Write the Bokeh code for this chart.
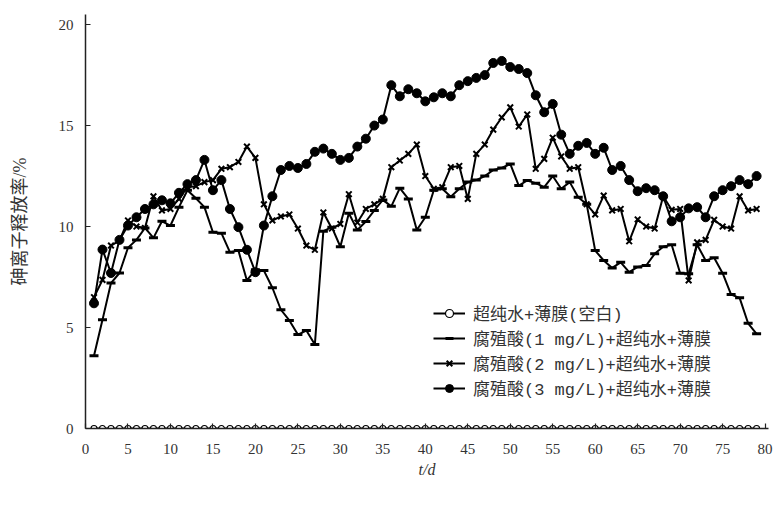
from bokeh.plotting import figure
from bokeh.models import Legend, LegendItem, Range1d, FixedTicker
from bokeh.embed import file_html
from bokeh.resources import INLINE

days = list(range(1, 80))

blank = [0.0] * 79

ha1 = [3.6, 5.38, 7.2, 7.7, 8.95, 9.34, 9.93, 9.44, 10.26, 10.05,
       10.96, 11.8, 11.4, 10.96, 9.72, 9.67, 8.73, 8.81, 7.33, 7.86,
       7.82, 6.97, 5.88, 5.35, 4.65, 4.85, 4.16, 9.77, 9.97, 9.0,
       10.66, 9.83, 10.25, 10.8, 11.32, 11.0, 11.9, 11.37, 9.83, 10.46,
       11.8, 11.87, 11.48, 11.87, 12.2, 12.3, 12.5, 12.8, 12.9, 13.1,
       12.03, 12.28, 12.15, 11.95, 12.5, 11.87, 12.2, 11.45, 11.1, 8.81,
       8.32, 7.95, 8.23, 7.74, 8.0, 8.07, 8.65, 9.0, 9.1, 7.69,
       7.66, 9.1, 8.32, 8.45, 7.69, 6.63, 6.47, 5.21, 4.69]

ha2 = [6.5, 7.36, 9.06, 9.3, 10.3, 10.0, 9.93, 11.5, 10.8, 10.87,
       11.37, 11.95, 12.0, 12.2, 12.3, 12.86, 12.94, 13.2, 13.96, 13.4,
       11.1, 10.3, 10.5, 10.6, 9.9, 9.06, 8.85, 10.7, 9.9, 10.13,
       11.6, 10.2, 10.87, 11.1, 11.37, 12.94, 13.27, 13.6, 14.06, 12.5,
       11.87, 11.95, 12.94, 13.0, 11.37, 13.6, 14.06, 14.8, 15.4, 15.9,
       14.95, 15.55, 12.86, 13.35, 14.4, 13.47, 12.86, 12.94, 11.1, 10.6,
       11.53, 10.8, 10.87, 9.27, 10.35, 10.0, 9.9, 11.5, 10.83, 10.87,
       7.33, 9.22, 9.34, 10.33, 10.0, 9.9, 11.5, 10.8, 10.87]

ha3 = [6.2, 8.86, 7.7, 9.34, 10.05, 10.46, 10.87, 11.1, 11.3, 11.15,
       11.67, 12.1, 12.3, 13.3, 11.8, 12.3, 10.87, 9.97, 8.85, 7.74,
       10.05, 11.5, 12.8, 13.0, 12.9, 13.1, 13.7, 13.86, 13.6, 13.3,
       13.4, 13.96, 14.35, 15.0, 15.3, 17.0, 16.45, 16.8, 16.6, 16.2,
       16.4, 16.6, 16.45, 17.0, 17.2, 17.36, 17.5, 18.1, 18.2, 17.9,
       17.8, 17.6, 16.5, 15.66, 16.07, 14.55, 13.6, 14.0, 14.14, 13.6,
       13.9, 12.8, 13.0, 12.3, 11.75, 11.9, 11.8, 11.5, 10.26, 10.46,
       10.9, 10.96, 10.46, 11.5, 11.8, 12.0, 12.3, 12.1, 12.5]

labels = ["超纯水+薄膜(空白)",
          "腐殖酸(1 mg/L)+超纯水+薄膜",
          "腐殖酸(2 mg/L)+超纯水+薄膜",
          "腐殖酸(3 mg/L)+超纯水+薄膜"]

x_ticks = list(range(0, 81, 5))
y_ticks = [0, 5, 10, 15, 20]

FONT = "'Liberation Serif', 'Noto Sans CJK SC'"
LFONT = "'Liberation Mono', 'Noto Sans CJK SC'"

p = figure(width=775, height=490, output_backend="svg", toolbar_location=None,
           x_range=Range1d(0, 80.4), y_range=Range1d(0, 20.5),
           min_border_left=85, min_border_right=7, min_border_top=14, min_border_bottom=62)
p.outline_line_color = None
p.grid.visible = False
p.background_fill_color = "white"

for ax in (p.xaxis[0], p.yaxis[0]):
    ax.major_tick_in = 5
    ax.major_tick_out = 0
    ax.minor_tick_in = 0
    ax.minor_tick_out = 0
    ax.axis_line_width = 1.5
    ax.axis_line_color = "#222222"
    ax.major_tick_line_color = "#222222"
    ax.major_tick_line_width = 1.2
    ax.major_label_text_font = FONT
    ax.major_label_text_font_size = "15px"
    ax.major_label_text_color = "#333333"
    ax.axis_label_text_font = FONT
    ax.axis_label_text_color = "#333333"

p.xaxis.ticker = FixedTicker(ticks=x_ticks)
p.yaxis.ticker = FixedTicker(ticks=y_ticks)
p.xaxis.major_label_standoff = 15
p.yaxis.major_label_standoff = 12

p.yaxis.axis_label = "砷离子释放率/%"
p.yaxis.axis_label_text_font_style = "normal"
p.yaxis.axis_label_text_font_size = "18px"
p.yaxis.axis_label_standoff = 26

p.xaxis.axis_label = "t/d"
p.xaxis.axis_label_text_font_style = "italic"
p.xaxis.axis_label_text_font_size = "16px"
p.xaxis.axis_label_standoff = 4

lw = 2
r0l = p.line(days, blank, line_color="black", line_width=lw)
r0m = p.scatter(days, blank, marker="circle", size=6, fill_color="white", line_color="black", line_width=1.2)

r1l = p.line(days, ha1, line_color="black", line_width=lw)
r1m = p.scatter(days, ha1, marker="dash", size=9, line_color="black", line_width=3)

r2l = p.line(days, ha2, line_color="black", line_width=lw)
r2m = p.scatter(days, ha2, marker="x", size=8, line_color="black", line_width=2)

r3l = p.line(days, ha3, line_color="black", line_width=lw)
r3m = p.scatter(days, ha3, marker="circle", size=9, fill_color="black", line_color="black")

legend = Legend(items=[
    LegendItem(label=labels[0], renderers=[r0l, r0m]),
    LegendItem(label=labels[1], renderers=[r1l, r1m]),
    LegendItem(label=labels[2], renderers=[r2l, r2m]),
    LegendItem(label=labels[3], renderers=[r3l, r3m]),
], location=(348, 28))
legend.border_line_color = None
legend.background_fill_alpha = 0
legend.label_text_font = LFONT
legend.label_text_font_size = "17px"
legend.label_text_color = "#333333"
legend.glyph_width = 32
legend.label_height = 20
legend.glyph_height = 20
legend.spacing = -4
legend.padding = 4
legend.label_standoff = 8
p.add_layout(legend)

open("out.html", "w").write(file_html(p, INLINE))
